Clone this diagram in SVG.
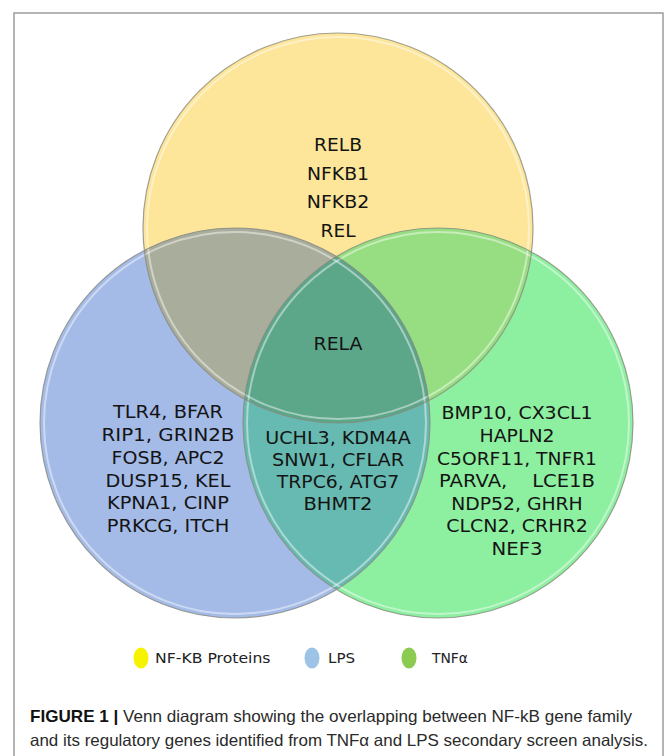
<svg xmlns="http://www.w3.org/2000/svg" width="665" height="756" viewBox="0 0 665 756">
<style>
.gene{font-family:"DejaVu Sans",Verdana,sans-serif;font-size:18px;fill:#141414;text-anchor:middle}
.leg{font-family:"DejaVu Sans",Verdana,sans-serif;font-size:14px;fill:#222}
.cap{font-family:"Liberation Sans",Arial,sans-serif;font-size:16.5px;fill:#2a2a2a}
.edge{fill:none;stroke:#8a8a80;stroke-width:1.2;stroke-opacity:0.8}
.hl{fill:none;stroke:#ffffff;stroke-width:2;stroke-opacity:0.45}
</style>
<defs>
<clipPath id="cY"><circle cx="338" cy="228" r="195"/></clipPath>
<clipPath id="cB"><circle cx="235" cy="423" r="195"/></clipPath>
</defs>
<rect x="0" y="0" width="665" height="756" fill="#ffffff"/>
<rect x="14" y="13" width="649" height="760" fill="#ffffff" stroke="#9c9c9c" stroke-width="1.5"/>

<g id="circle-nfkb"><circle cx="338" cy="228" r="195" fill="#FDE69A"/></g>
<g id="circle-lps"><circle cx="235" cy="423" r="195" fill="#A4BBE8"/></g>
<g id="circle-tnf"><circle cx="438" cy="423" r="195" fill="#8DEFA0"/></g>
<g id="overlaps">
<circle cx="235" cy="423" r="195" fill="#A9AD9C" clip-path="url(#cY)"/>
<circle cx="438" cy="423" r="195" fill="#97DE82" clip-path="url(#cY)"/>
<circle cx="438" cy="423" r="195" fill="#67BAB1" clip-path="url(#cB)"/>
<g clip-path="url(#cY)"><circle cx="438" cy="423" r="195" fill="#5CA68A" clip-path="url(#cB)"/></g>
</g>
<g id="outlines">
<circle class="hl" cx="338" cy="228" r="191"/>
<circle class="hl" cx="235" cy="423" r="191"/>
<circle class="hl" cx="438" cy="423" r="191"/>
<circle class="edge" cx="338" cy="228" r="195"/>
<circle class="edge" cx="235" cy="423" r="195"/>
<circle class="edge" cx="438" cy="423" r="195"/>
</g>

<g id="nfkb-only">
<text class="gene" x="338" y="151" textLength="48" lengthAdjust="spacingAndGlyphs">RELB</text>
<text class="gene" x="338" y="179.5" textLength="62" lengthAdjust="spacingAndGlyphs">NFKB1</text>
<text class="gene" x="338" y="208" textLength="62.5" lengthAdjust="spacingAndGlyphs">NFKB2</text>
<text class="gene" x="338" y="236.5" textLength="35" lengthAdjust="spacingAndGlyphs">REL</text>
</g>
<g id="all-three">
<text class="gene" x="338" y="350" textLength="49" lengthAdjust="spacingAndGlyphs">RELA</text>
</g>
<g id="lps-only">
<text class="gene" x="168" y="418" textLength="110" lengthAdjust="spacingAndGlyphs">TLR4, BFAR</text>
<text class="gene" x="168" y="441" textLength="133" lengthAdjust="spacingAndGlyphs">RIP1, GRIN2B</text>
<text class="gene" x="168" y="464" textLength="113" lengthAdjust="spacingAndGlyphs">FOSB, APC2</text>
<text class="gene" x="168" y="486.5" textLength="125" lengthAdjust="spacingAndGlyphs">DUSP15, KEL</text>
<text class="gene" x="168" y="509" textLength="122" lengthAdjust="spacingAndGlyphs">KPNA1, CINP</text>
<text class="gene" x="168" y="532" textLength="122.5" lengthAdjust="spacingAndGlyphs">PRKCG, ITCH</text>
</g>
<g id="lps-tnf">
<text class="gene" x="338" y="444" textLength="145.5" lengthAdjust="spacingAndGlyphs">UCHL3, KDM4A</text>
<text class="gene" x="338" y="466" textLength="132" lengthAdjust="spacingAndGlyphs">SNW1, CFLAR</text>
<text class="gene" x="338" y="487.5" textLength="122.5" lengthAdjust="spacingAndGlyphs">TRPC6, ATG7</text>
<text class="gene" x="338" y="510" textLength="69" lengthAdjust="spacingAndGlyphs">BHMT2</text>
</g>
<g id="tnf-only">
<text class="gene" x="517" y="419" textLength="151" lengthAdjust="spacingAndGlyphs">BMP10, CX3CL1</text>
<text class="gene" x="517" y="442" textLength="75" lengthAdjust="spacingAndGlyphs">HAPLN2</text>
<text class="gene" x="517" y="465" textLength="160" lengthAdjust="spacingAndGlyphs">C5ORF11, TNFR1</text>
<text class="gene" x="517" y="487" textLength="156" lengthAdjust="spacingAndGlyphs" xml:space="preserve">PARVA,    LCE1B</text>
<text class="gene" x="517" y="509.5" textLength="131.5" lengthAdjust="spacingAndGlyphs">NDP52, GHRH</text>
<text class="gene" x="517" y="532" textLength="141.5" lengthAdjust="spacingAndGlyphs">CLCN2, CRHR2</text>
<text class="gene" x="517" y="555" textLength="51" lengthAdjust="spacingAndGlyphs">NEF3</text>
</g>

<g id="legend">
<ellipse cx="141" cy="658" rx="7.5" ry="10.5" fill="#F6F200"/>
<text class="leg" x="155" y="663" textLength="115.5" lengthAdjust="spacingAndGlyphs">NF-KB Proteins</text>
<ellipse cx="312" cy="658" rx="7.5" ry="10.5" fill="#9DC3E6"/>
<text class="leg" x="328" y="663" textLength="27" lengthAdjust="spacingAndGlyphs">LPS</text>
<ellipse cx="409" cy="658" rx="7.5" ry="10.5" fill="#8CCB52"/>
<text class="leg" x="432" y="663" textLength="36" lengthAdjust="spacingAndGlyphs">TNFα</text>
</g>

<g id="caption">
<text class="cap" x="30" y="722" textLength="602" lengthAdjust="spacingAndGlyphs"><tspan font-weight="bold" fill="#111">FIGURE 1 |</tspan> Venn diagram showing the overlapping between NF-kB gene family</text>
<text class="cap" x="30" y="745.5" textLength="618" lengthAdjust="spacingAndGlyphs">and its regulatory genes identified from TNFα and LPS secondary screen analysis.</text>
</g>
</svg>
